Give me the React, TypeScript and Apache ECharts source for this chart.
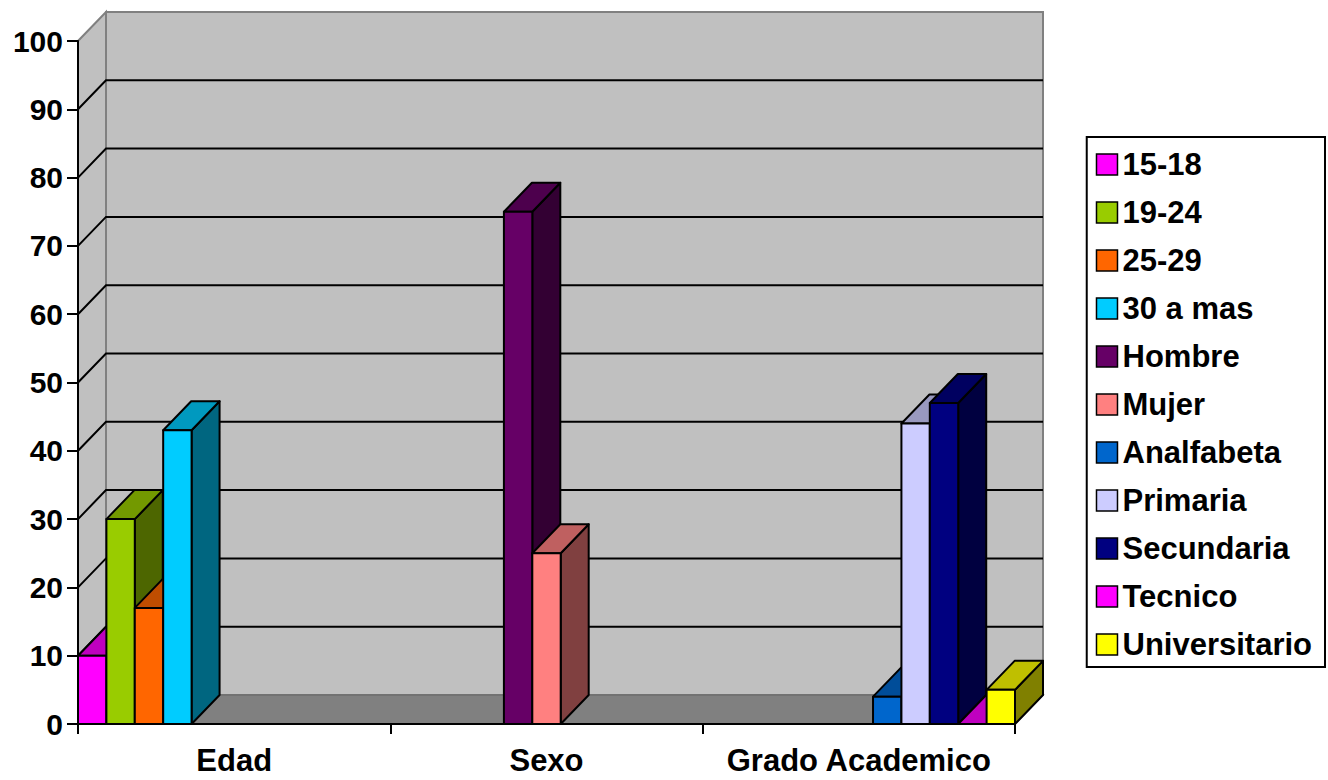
import React, { useEffect, useRef } from "react";
import * as echarts from "echarts";

// ---- data ----
const categories = ["Edad", "Sexo", "Grado Academico"];
const seriesNames = [
  "15-18",
  "19-24",
  "25-29",
  "30 a mas",
  "Hombre",
  "Mujer",
  "Analfabeta",
  "Primaria",
  "Secundaria",
  "Tecnico",
  "Universitario",
];
const edad1518 = [10, null, null];
const edad1924 = [30, null, null];
const edad2529 = [17, null, null];
const edad30mas = [43, null, null];
const sexoHombre = [null, 75, null];
const sexoMujer = [null, 25, null];
const gradoAnalfabeta = [null, null, 4];
const gradoPrimaria = [null, null, 44];
const gradoSecundaria = [null, null, 47];
const gradoTecnico = [null, null, 0];
const gradoUniversitario = [null, null, 5];
const seriesValues: (number | null)[][] = [
  edad1518,
  edad1924,
  edad2529,
  edad30mas,
  sexoHombre,
  sexoMujer,
  gradoAnalfabeta,
  gradoPrimaria,
  gradoSecundaria,
  gradoTecnico,
  gradoUniversitario,
];
const seriesColors = [
  "#FF00FF",
  "#99CC00",
  "#FF6600",
  "#00CCFF",
  "#660066",
  "#FF8080",
  "#0066CC",
  "#CCCCFF",
  "#000080",
  "#FF00FF",
  "#FFFF00",
];
const Y_MIN = 0;
const Y_MAX = 100;
const Y_INTERVAL = 10;

// ---- style constants ----
const DX = 28;
const DY = 29;
const FONT = 'Arial, "Liberation Sans", Helvetica, sans-serif';
const FONT_SIZE = 30;
const FONT_SIZE_WIDE = 31;

function shade(hex: string, f: number): string {
  const n = parseInt(hex.slice(1), 16);
  const r = Math.round(((n >> 16) & 255) * f);
  const g = Math.round(((n >> 8) & 255) * f);
  const b = Math.round((n & 255) * f);
  return "rgb(" + r + "," + g + "," + b + ")";
}

function makeBarRenderer(seriesIdx: number, color: string) {
  return (params: any, api: any) => {
    const cat = api.value(0);
    const v = api.value(1);
    const top = api.coord([cat, v]);
    const base = api.coord([cat, 0]);
    const band = api.size([1, 0])[0];
    const slot = band / seriesNames.length;
    const x0 = top[0] - band / 2 + seriesIdx * slot;
    const x1 = x0 + slot;
    const yT = top[1];
    const yB = base[1];
    const line = { stroke: "#000", lineWidth: 2, lineJoin: "round" };
    return {
      type: "group",
      children: [
        {
          type: "polygon",
          shape: {
            points: [
              [x1, yB],
              [x1 + DX, yB - DY],
              [x1 + DX, yT - DY],
              [x1, yT],
            ],
          },
          style: { fill: shade(color, 0.5), ...line },
        },
        {
          type: "polygon",
          shape: {
            points: [
              [x0, yT],
              [x0 + DX, yT - DY],
              [x1 + DX, yT - DY],
              [x1, yT],
            ],
          },
          style: { fill: shade(color, 0.75), ...line },
        },
        {
          type: "rect",
          shape: { x: x0, y: yT, width: slot, height: yB - yT },
          style: { fill: color, ...line },
        },
      ],
    };
  };
}

function renderWalls(params: any, api: any) {
  const cs = params.coordSys;
  const xL = cs.x;
  const xR = cs.x + cs.width;
  const y0 = api.coord([0, Y_MIN])[1];
  const yTop = api.coord([0, Y_MAX])[1];
  const children: any[] = [];
  // back wall
  children.push({
    type: "rect",
    shape: { x: xL + DX, y: yTop - DY, width: xR - xL, height: y0 - yTop },
    style: { fill: "#C0C0C0", stroke: "#808080", lineWidth: 2 },
  });
  // left side wall
  children.push({
    type: "polygon",
    shape: {
      points: [
        [xL, y0],
        [xL, yTop],
        [xL + DX, yTop - DY],
        [xL + DX, y0 - DY],
      ],
    },
    style: { fill: "#C0C0C0", stroke: "#808080", lineWidth: 2 },
  });
  // gridlines
  for (let v = Y_MIN + Y_INTERVAL; v < Y_MAX; v += Y_INTERVAL) {
    const y = api.coord([0, v])[1];
    children.push({
      type: "polyline",
      shape: {
        points: [
          [xL, y],
          [xL + DX, y - DY],
          [xR + DX, y - DY],
        ],
      },
      style: { fill: null, stroke: "#000", lineWidth: 2 },
    });
  }
  // floor
  children.push({
    type: "polygon",
    shape: {
      points: [
        [xL, y0],
        [xR, y0],
        [xR + DX, y0 - DY],
        [xL + DX, y0 - DY],
      ],
    },
    style: { fill: "#808080", stroke: "#6e6e6e", lineWidth: 1.5 },
  });
  return { type: "group", children };
}

export default function App() {
  const ref = useRef<HTMLDivElement>(null);
  useEffect(() => {
    if (!ref.current) return;
    const chart = echarts.init(ref.current, null, { renderer: "svg" });
    const barSeries = seriesNames.map((name, i) => ({
      type: "custom",
      name,
      coordinateSystem: "cartesian2d",
      itemStyle: { color: seriesColors[i] },
      encode: { x: 0, y: 1 },
      data: seriesValues[i]
        .map((v, c) => (v === null ? null : [c, v]))
        .filter((d) => d !== null),
      renderItem: makeBarRenderer(i, seriesColors[i]),
      silent: true,
    }));
    const option: any = {
      animation: false,
      backgroundColor: "#FFFFFF",
      grid: { left: 78, right: 313, top: 41, bottom: 56 },
      legend: {
        orient: "vertical",
        right: 3,
        top: 137,
        itemWidth: 21,
        itemHeight: 21,
        itemGap: 17,
        itemTextGap: 10,
        icon: "rect",
        padding: [12, 13, 7, 9],
        borderColor: "#000",
        borderWidth: 2,
        selectedMode: false,
        textStyle: {
          fontFamily: FONT,
          fontWeight: "bold",
          fontSize: FONT_SIZE_WIDE,
          color: "#000",
        },
        data: seriesNames.map((n, i) => ({
          name: n,
          itemStyle: {
            color: seriesColors[i],
            borderColor: "#000",
            borderWidth: 1.5,
          },
        })),
      },
      xAxis: {
        type: "category",
        data: categories,
        z: 5,
        axisLine: { show: true, lineStyle: { color: "#000", width: 2 } },
        axisTick: {
          show: true,
          alignWithLabel: false,
          length: 10,
          lineStyle: { color: "#000", width: 2 },
        },
        axisLabel: {
          interval: 0,
          fontFamily: FONT,
          fontWeight: "bold",
          fontSize: FONT_SIZE_WIDE,
          color: "#000",
          margin: 21,
        },
        splitLine: { show: false },
      },
      yAxis: {
        type: "value",
        min: Y_MIN,
        max: Y_MAX,
        interval: Y_INTERVAL,
        z: 5,
        axisLine: { show: true, lineStyle: { color: "#000", width: 2 } },
        axisTick: {
          show: true,
          length: 11,
          lineStyle: { color: "#000", width: 2 },
        },
        axisLabel: {
          fontFamily: FONT,
          fontWeight: "bold",
          fontSize: FONT_SIZE,
          color: "#000",
          margin: 15,
        },
        splitLine: { show: false },
      },
      series: [
        {
          type: "custom",
          name: "walls",
          coordinateSystem: "cartesian2d",
          encode: { x: 0, y: 1 },
          data: [[0, 0]],
          renderItem: renderWalls,
          silent: true,
          z: 1,
        },
        ...barSeries,
      ],
    };
    chart.setOption(option);
    return () => chart.dispose();
  }, []);
  return (
    <div
      ref={ref}
      style={{
        position: "fixed",
        left: 0,
        top: 0,
        width: 1328,
        height: 780,
        background: "#fff",
      }}
    />
  );
}
